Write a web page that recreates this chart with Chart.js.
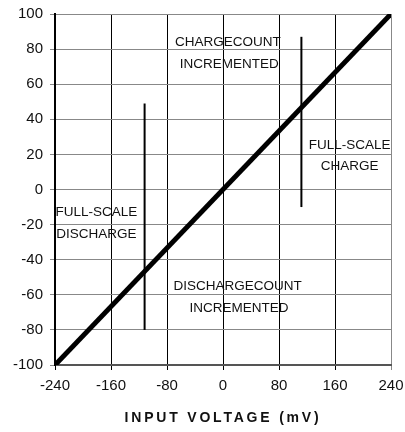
<!DOCTYPE html>
<html>
<head>
<meta charset="utf-8">
<script src="https://cdn.jsdelivr.net/npm/chart.js@4"></script>
<style>
  html, body { margin: 0; padding: 0; background: #fff; }
  #wrap { width: 405px; height: 432px; }
</style>
</head>
<body>
<div id="wrap"><canvas id="chart"></canvas></div>
<script>
// transfer line (input mV -> count)
var lineX = [-240, 240];
var lineY = [-100, 100];

// threshold markers
var markLeftX = [-112, -112];
var markLeftY = [-80, 49];
var markRightX = [112, 112];
var markRightY = [-10, 87];

var xTicks = [-240, -160, -80, 0, 80, 160, 240];
var yTicks = [-100, -80, -60, -40, -20, 0, 20, 40, 60, 80, 100];

// annotation text and where it sits (in data units)
var noteText = ['CHARGECOUNT', 'INCREMENTED', 'FULL-SCALE', 'CHARGE',
                'FULL-SCALE', 'DISCHARGE', 'DISCHARGECOUNT', 'INCREMENTED'];
var noteX = [7, 9, 181, 181, -181, -181, 21, 23];
var noteY = [84, 71.5, 25.4, 13.4, -12.8, -25.4, -55, -67.5];

function pts(xs, ys) {
    return xs.map(function (x, i) { return { x: x, y: ys[i] }; });
}

var notesPlugin = {
    id: 'notes',
    afterDatasetsDraw: function (chart) {
        var ctx = chart.ctx, xs = chart.scales.x, ys = chart.scales.y;
        ctx.save();
        ctx.fillStyle = '#111';
        ctx.font = '13.5px "Liberation Sans", Arial, sans-serif';
        ctx.textAlign = 'center';
        ctx.textBaseline = 'middle';
        noteText.forEach(function (t, i) {
            ctx.fillText(t, xs.getPixelForValue(noteX[i]), ys.getPixelForValue(noteY[i]));
        });
        // axis title, letter-spaced
        ctx.font = 'bold 14px "Liberation Sans", Arial, sans-serif';
        ctx.letterSpacing = '2.8px';
        ctx.fillText('INPUT VOLTAGE (mV)', (chart.chartArea.left + chart.chartArea.right) / 2, 418);
        ctx.restore();
    }
};

new Chart(document.getElementById('chart').getContext('2d'), {
    type: 'scatter',
    data: {
        datasets: [{
            data: pts(lineX, lineY),
            showLine: true,
            borderColor: '#000',
            borderWidth: 5,
            pointRadius: 0
        }, {
            data: pts(markLeftX, markLeftY),
            showLine: true,
            borderColor: '#000',
            borderWidth: 2,
            pointRadius: 0
        }, {
            data: pts(markRightX, markRightY),
            showLine: true,
            borderColor: '#000',
            borderWidth: 2,
            pointRadius: 0
        }]
    },
    options: {
        responsive: true,
        maintainAspectRatio: false,
        animation: false,
        layout: { padding: { top: 14, right: 14, left: 0, bottom: 0 } },
        plugins: { legend: { display: false }, tooltip: { enabled: false } },
        scales: {
            x: {
                type: 'linear',
                min: -240, max: 240,
                afterBuildTicks: function (s) { s.ticks = xTicks.map(function (v) { return { value: v }; }); },
                afterFit: function (s) { s.height = 67; s.paddingLeft = 0; s.paddingRight = 0; },
                grid: {
                    color: function (c) { return c.index === xTicks.length - 1 ? '#888' : '#000'; },
                    lineWidth: 1,
                    tickLength: 5
                },
                border: { color: '#555', width: 2 },
                ticks: {
                    color: '#111',
                    padding: 7,
                    maxRotation: 0,
                    font: { family: '"Liberation Sans", Arial, sans-serif', size: 15 }
                }
            },
            y: {
                min: -100, max: 100,
                afterBuildTicks: function (s) { s.ticks = yTicks.map(function (v) { return { value: v }; }); },
                afterFit: function (s) { s.width = 55; s.paddingTop = 0; s.paddingBottom = 0; },
                grid: { color: '#888', lineWidth: 1, tickLength: 5 },
                border: { color: '#000', width: 2 },
                ticks: {
                    color: '#111',
                    padding: 7,
                    font: { family: '"Liberation Sans", Arial, sans-serif', size: 15 }
                }
            }
        }
    },
    plugins: [notesPlugin]
});
</script>
</body>
</html>
